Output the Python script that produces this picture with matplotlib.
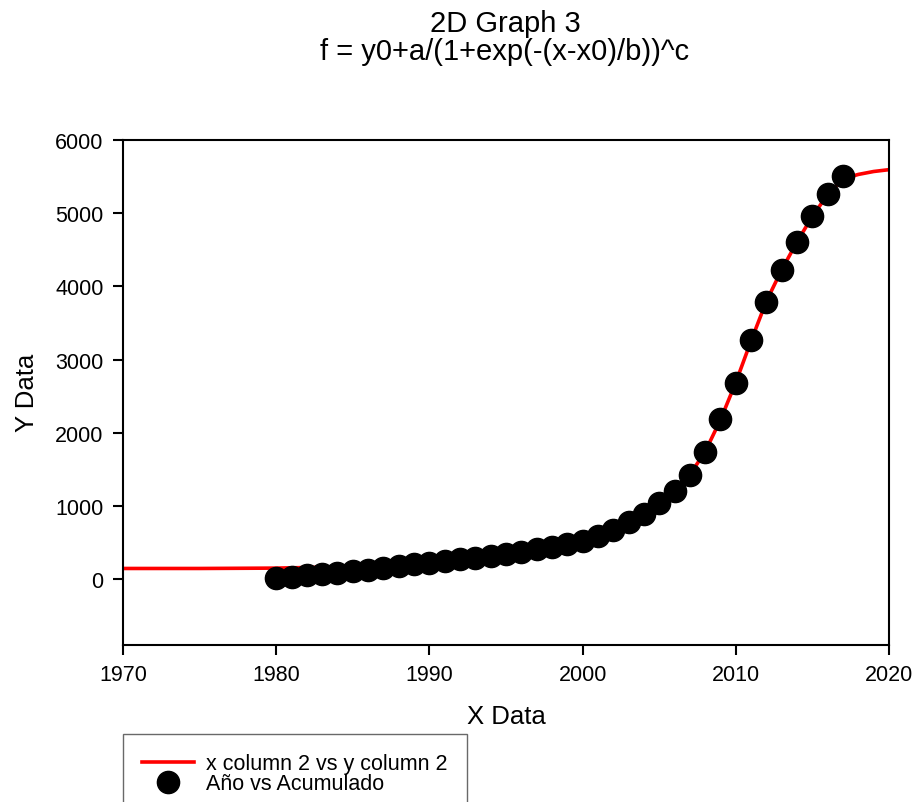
import matplotlib
matplotlib.use("Agg")
import matplotlib.pyplot as plt
from matplotlib.lines import Line2D

plt.rcParams['font.family'] = ['Liberation Sans', 'DejaVu Sans']

# Observed data (Año vs Acumulado)
years = list(range(1980, 2018))
acumulado = [15, 35, 55, 75, 95, 115, 135, 155, 180, 205,
             230, 255, 275, 295, 320, 345, 375, 410, 445, 485,
             530, 600, 680, 790, 895, 1045, 1205, 1420, 1740, 2185,
             2685, 3270, 3795, 4225, 4605, 4965, 5265, 5510]

# Fitted curve (x column 2 vs y column 2)
fit_x = [1970, 1975, 1980, 1985, 1990, 1995, 1998, 2000, 2001, 2002, 2003, 2004,
         2005, 2006, 2007, 2008, 2009, 2010, 2011, 2012, 2013, 2014, 2015,
         2016, 2017, 2018, 2019, 2020]
fit_y = [150, 150, 155, 175, 235, 345, 445, 530, 595, 675, 780, 900,
         1040, 1210, 1430, 1745, 2180, 2690, 3260, 3800, 4230, 4610, 4960,
         5255, 5470, 5530, 5570, 5595]

xticks = [1970, 1980, 1990, 2000, 2010, 2020]
yticks = [0, 1000, 2000, 3000, 4000, 5000, 6000]

fig = plt.figure(figsize=(9.15, 8.03), dpi=100)
ax = fig.add_axes([123/915, 1 - 645.5/803, (889 - 123)/915, (645.5 - 141)/803])

ax.plot(fit_x, fit_y, color='#ff0000', lw=2.6, solid_capstyle='butt', zorder=2)
ax.plot(years, acumulado, 'o', color='black', ms=16, mec='black', zorder=3)

ax.set_xlim(1970, 2020)
ax.set_ylim(-888, 6000)
ax.set_xticks(xticks)
ax.set_yticks(yticks)
ax.tick_params(direction='out', length=7, width=1.5, labelsize=15.5, pad=7,
               top=False, right=False)
for s in ax.spines.values():
    s.set_linewidth(1.5)

ax.set_xlabel('X Data', fontsize=18.5, labelpad=14)
ax.set_ylabel('Y Data', fontsize=18.5, labelpad=12)

fig.text(505/915, 1 - 24/803, '2D Graph 3', ha='center', va='center', fontsize=21)
fig.text(505/915, 1 - 52/803, 'f = y0+a/(1+exp(-(x-x0)/b))^c', ha='center', va='center', fontsize=21)

handles = [Line2D([], [], color='#ff0000', lw=2.6),
           Line2D([], [], ls='none', marker='o', color='black', ms=16)]
labels = ['x column 2 vs y column 2', 'Año vs Acumulado']
leg = fig.legend(handles, labels, loc='upper left', bbox_to_anchor=(123/915, 1 - 735/803),
                 fontsize=15.5, frameon=True, fancybox=False, edgecolor='#444444',
                 borderpad=0.9, labelspacing=-0.05, handlelength=2.4, handletextpad=0.55,
                 borderaxespad=0)
leg.get_frame().set_linewidth(1.0)

fig.savefig('out.png', dpi=100)
